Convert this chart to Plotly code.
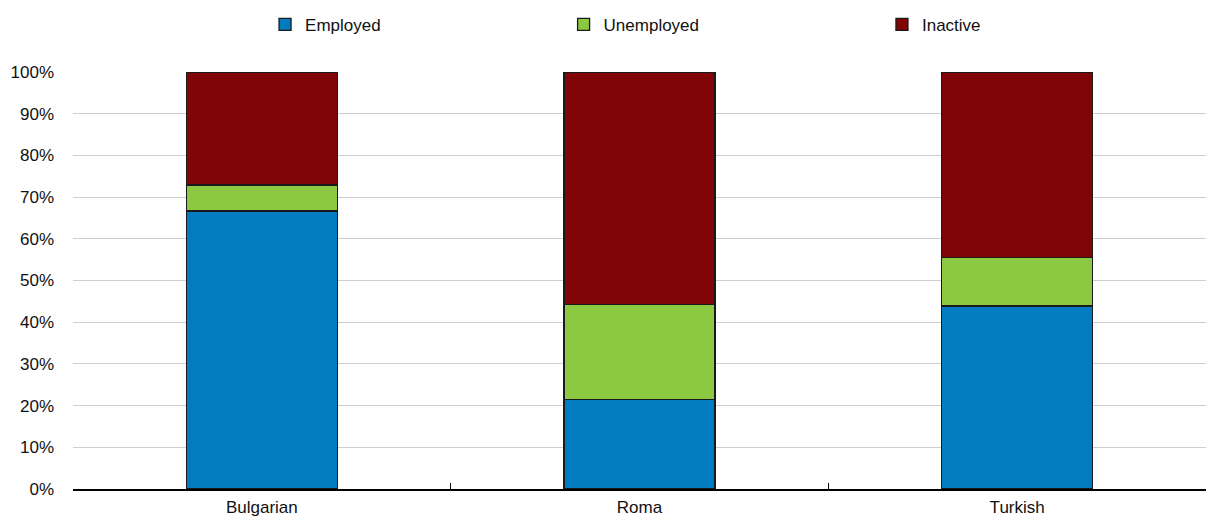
import plotly.graph_objects as go

# Labour market status by ethnic group (share of population)
groups = ["Bulgarian", "Roma", "Turkish"]
employed = [66.7, 21.5, 43.9]
unemployed = [6.2, 22.8, 11.7]
inactive = [27.1, 55.7, 44.4]

series_names = ["Employed", "Unemployed", "Inactive"]
series_values = [employed, unemployed, inactive]
series_colors = ["#037BC1", "#8CC841", "#7F0506"]
legend_ids = ["legend", "legend2", "legend3"]
legend_x = [0.1695, 0.433, 0.714]

FONT = "Liberation Sans, Arial, sans-serif"

fig = go.Figure()
for name, vals, color, lid in zip(series_names, series_values, series_colors, legend_ids):
    fig.add_trace(go.Bar(
        x=groups,
        y=[v / 100 for v in vals],
        name=name,
        marker=dict(color=color, line=dict(color="#1a1a1a", width=1.3)),
        width=0.4,
        legend=lid,
        showlegend=True,
        hovertemplate="%{x}: %{y:.1%}<extra>" + name + "</extra>",
    ))

legend_common = dict(
    orientation="h",
    yref="container",
    y=0.952,
    yanchor="middle",
    xanchor="left",
    font=dict(family=FONT, size=17, color="#111111"),
    bgcolor="rgba(0,0,0,0)",
    itemclick=False,
)

fig.update_layout(
    barmode="stack",
    showlegend=True,
    width=1206,
    height=518,
    margin=dict(l=73, r=0, t=72, b=29),
    plot_bgcolor="white",
    paper_bgcolor="white",
    font=dict(family=FONT, size=17, color="#111111"),
    legend=dict(x=legend_x[0], visible=True, **legend_common),
    legend2=dict(x=legend_x[1], **legend_common),
    legend3=dict(x=legend_x[2], **legend_common),
    xaxis=dict(
        showline=True,
        linecolor="#000000",
        linewidth=1.5,
        ticks="inside",
        ticklen=6,
        tickwidth=1.3,
        tickcolor="#000000",
        tickson="boundaries",
        showgrid=False,
        ticklabelstandoff=2,
        tickfont=dict(family=FONT, size=17, color="#111111"),
    ),
    yaxis=dict(
        range=[0, 1],
        dtick=0.1,
        tickformat=".0%",
        showgrid=True,
        gridcolor="#CFCFCF",
        gridwidth=1.2,
        zeroline=False,
        showline=False,
        ticks="",
        ticklabelstandoff=18,
        tickfont=dict(family=FONT, size=17, color="#111111"),
    ),
)

fig.write_html("out.html")
